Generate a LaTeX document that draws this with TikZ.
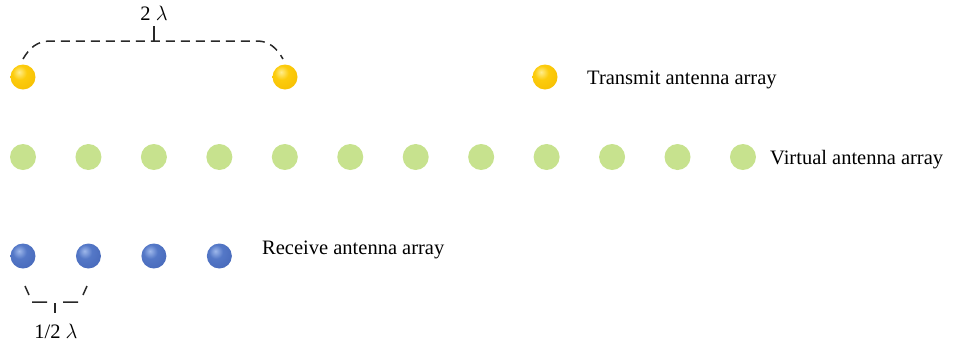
\documentclass[tikz,border=0pt]{standalone}
\usepackage{fontspec}
\setmainfont{Liberation Serif}
\pgfdeclareradialshading{goldball}{\pgfpoint{-8bp}{10bp}}{%
  rgb(0bp)=(1,0.93,0.55); rgb(14bp)=(0.99,0.80,0.05); rgb(40bp)=(0.96,0.74,0); rgb(52bp)=(0.80,0.52,0); rgb(66bp)=(0.55,0.36,0); rgb(100bp)=(0.55,0.36,0)}
\pgfdeclareradialshading{blueball}{\pgfpoint{-8bp}{10bp}}{%
  rgb(0bp)=(0.62,0.72,0.92); rgb(14bp)=(0.33,0.47,0.78); rgb(40bp)=(0.27,0.40,0.72); rgb(52bp)=(0.18,0.28,0.56); rgb(66bp)=(0.10,0.16,0.38); rgb(100bp)=(0.10,0.16,0.38)}
\begin{document}
\begin{tikzpicture}[x=1pt,y=-1pt,
  tx/.style={shading=goldball},
  rx/.style={shading=blueball},
  ant/.style={circle,minimum size=25pt,inner sep=0pt},
  virt/.style={circle,minimum size=26pt,inner sep=0pt,fill={rgb,255:red,199;green,226;blue,142}},
  lbl/.style={anchor=west,font=\fontsize{20.5}{23}\selectfont,inner sep=0pt},
  brk/.style={draw={rgb,255:red,40;green,40;blue,40},line width=1.5pt,dash pattern=on 9pt off 6pt},
  brks/.style={draw={rgb,255:red,40;green,40;blue,40},line width=1.5pt}]
\useasboundingbox (0,0) rectangle (955,349);
% transmit
\node[ant,tx] (t1) at (23,77) {};
\node[ant,tx] (t2) at (285,77) {};
\node[ant,tx] (t3) at (545,77) {};
\node[lbl] (tl) at (587,80) {Transmit antenna array};
% virtual
\foreach \i in {0,...,11} {
  \node[virt] (v\i) at (23+65.45*\i,157) {};
}
\node[lbl] (vl) at (770,160) {Virtual antenna array};
% receive
\foreach \i in {0,...,3} {
  \node[ant,rx] (r\i) at (23+65.45*\i,256) {};
}
\node[lbl] (rl) at (262,250) {Receive antenna array};
% top bracket
\coordinate (ta) at (23,59);
\coordinate (tb) at (283,59);
\coordinate (tm) at (154,41);
\coordinate (tt) at (154,26);
\draw[brk] (ta) to[out=60,in=180] (50,41) -- (257,41) to[out=0,in=120] (tb);
\draw[brks] (tm) -- (tt);
\node[font=\fontsize{20.5}{23}\selectfont] (tlab) at (154,13) {2 $\lambda$};
% bottom bracket
\coordinate (b1) at (25,286);
\coordinate (b2) at (29,295);
\coordinate (b3) at (32,302);
\coordinate (b4) at (47,302);
\coordinate (b5) at (63,302);
\coordinate (b6) at (78,302);
\coordinate (b7) at (83,295);
\coordinate (b8) at (87,286);
\coordinate (bm) at (55,303);
\coordinate (bt) at (55,313);
\draw[brks] (b1) -- (b2) (b3) -- (b4) (b5) -- (b6) (b7) -- (b8);
\draw[brks] (bm) -- (bt);
\node[font=\fontsize{20.5}{23}\selectfont] (blab) at (56,331) {1/2 $\lambda$};
\end{tikzpicture}
\end{document}
